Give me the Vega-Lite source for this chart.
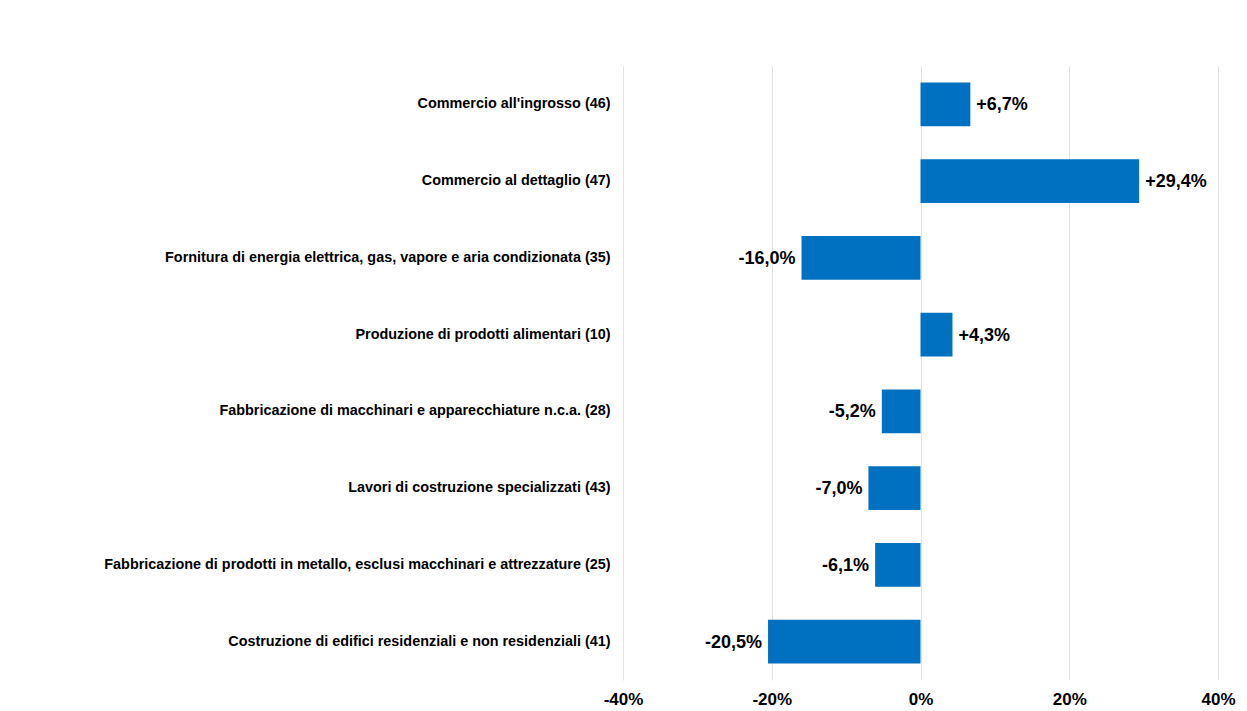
{
  "$schema": "https://vega.github.io/schema/vega-lite/v6.json",
  "width": 595,
  "height": 614,
  "autosize": {"type": "none"},
  "padding": {"left": 623, "top": 66, "right": 29, "bottom": 31},
  "background": "white",
  "config": {"view": {"stroke": null}, "font": "Liberation Sans"},
  "data": {
    "values": [
      {"settore": "Commercio all'ingrosso (46)", "var": 6.7, "label": "+6,7%"},
      {"settore": "Commercio al dettaglio (47)", "var": 29.4, "label": "+29,4%"},
      {"settore": "Fornitura di energia elettrica, gas, vapore e aria condizionata (35)", "var": -16.0, "label": "-16,0%"},
      {"settore": "Produzione di prodotti alimentari (10)", "var": 4.3, "label": "+4,3%"},
      {"settore": "Fabbricazione di macchinari e apparecchiature n.c.a. (28)", "var": -5.2, "label": "-5,2%"},
      {"settore": "Lavori di costruzione specializzati (43)", "var": -7.0, "label": "-7,0%"},
      {"settore": "Fabbricazione di prodotti in metallo, esclusi macchinari e attrezzature (25)", "var": -6.1, "label": "-6,1%"},
      {"settore": "Costruzione di edifici residenziali e non residenziali (41)", "var": -20.5, "label": "-20,5%"}
    ]
  },
  "encoding": {
    "y": {
      "field": "settore",
      "type": "nominal",
      "sort": null,
      "scale": {"paddingInner": 0.43, "paddingOuter": 0.215},
      "axis": {
        "title": null,
        "domain": false,
        "ticks": false,
        "labelPadding": 13,
        "labelFont": "Liberation Sans",
        "labelFontWeight": "bold",
        "labelFontSize": 14.4,
        "labelColor": "#000000",
        "labelLimit": 600
      }
    },
    "x": {
      "field": "var",
      "type": "quantitative",
      "scale": {"domain": [-40, 40]},
      "axis": {
        "title": null,
        "values": [-40, -20, 0, 20, 40],
        "labelExpr": "datum.value + '%'",
        "domain": false,
        "ticks": false,
        "grid": true,
        "gridColor": "#e3e3e3",
        "gridWidth": 1,
        "labelPadding": 11,
        "labelFont": "Liberation Sans",
        "labelFontWeight": "bold",
        "labelFontSize": 17,
        "labelColor": "#000000",
        "labelFlush": false
      }
    }
  },
  "layer": [
    {"mark": {"type": "bar", "color": "#0070C0"}},
    {
      "transform": [{"filter": "datum.var >= 0"}],
      "mark": {"type": "text", "align": "left", "baseline": "middle", "dx": 6, "dy": 1, "fontSize": 18, "fontWeight": "bold", "color": "#000000", "font": "Liberation Sans"},
      "encoding": {"text": {"field": "label"}}
    },
    {
      "transform": [{"filter": "datum.var < 0"}],
      "mark": {"type": "text", "align": "right", "baseline": "middle", "dx": -6, "dy": 1, "fontSize": 18, "fontWeight": "bold", "color": "#000000", "font": "Liberation Sans"},
      "encoding": {"text": {"field": "label"}}
    }
  ]
}
